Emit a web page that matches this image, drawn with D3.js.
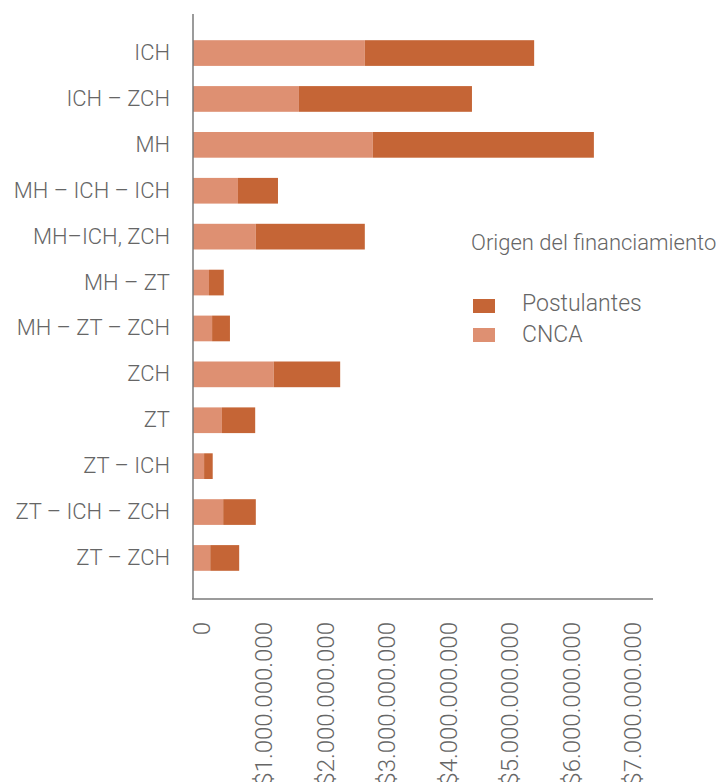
<!DOCTYPE html>
<html>
<head>
<meta charset="utf-8">
<script src="https://cdn.jsdelivr.net/npm/d3@7"></script>
<style>
  html, body { margin: 0; padding: 0; background: #fff; }
  svg { display: block; font-family: Roboto, "Open Sans", sans-serif; font-weight: 300; }
</style>
</head>
<body>
<div id="chart"></div>
<script>
  // Categorías (eje Y) y montos por origen del financiamiento
  const categories = ['ICH', 'ICH – ZCH', 'MH', 'MH – ICH – ICH', 'MH–ICH, ZCH', 'MH – ZT',
    'MH – ZT – ZCH', 'ZCH', 'ZT', 'ZT – ICH', 'ZT – ICH – ZCH', 'ZT – ZCH'];
  const cnca = [2.79e9, 1.72e9, 2.92e9, 0.73e9, 1.02e9, 0.26e9, 0.31e9, 1.31e9, 0.47e9, 0.18e9, 0.49e9, 0.28e9];
  const postulantes = [2.75e9, 2.81e9, 3.59e9, 0.65e9, 1.77e9, 0.24e9, 0.29e9, 1.08e9, 0.54e9, 0.14e9, 0.53e9, 0.47e9];
  const tickValues = [0, 1e9, 2e9, 3e9, 4e9, 5e9, 6e9, 7e9];
  const seriesNames = ['Postulantes', 'CNCA'];
  const legendTitle = 'Origen del financiamiento';

  const W = 723, H = 782;
  const COLORS = { CNCA: '#de9072', Postulantes: '#c56536', axis: '#7a7a7a', text: '#666' };

  const svg = d3.select('#chart').append('svg').attr('width', W).attr('height', H);

  const x = d3.scaleLinear().domain([0, 7.47e9]).range([193, 653]);
  const y = d3.scaleBand().domain(categories).range([20, 591]).padding(0.44);

  const rows = categories.map((c, i) => ({ cat: c, CNCA: cnca[i], Postulantes: postulantes[i] }));
  const stacked = d3.stack().keys(['CNCA', 'Postulantes'])(rows);

  svg.append('g')
    .selectAll('g')
    .data(stacked)
    .join('g')
    .attr('fill', d => COLORS[d.key])
    .selectAll('rect')
    .data(d => d)
    .join('rect')
    .attr('x', d => x(d[0]))
    .attr('width', d => x(d[1]) - x(d[0]))
    .attr('y', d => y(d.data.cat))
    .attr('height', y.bandwidth());

  // Ejes
  svg.append('line')
    .attr('x1', 193).attr('x2', 193).attr('y1', 14).attr('y2', 599)
    .attr('stroke', COLORS.axis).attr('stroke-width', 1.5);
  svg.append('line')
    .attr('x1', 192).attr('x2', 653).attr('y1', 599).attr('y2', 599)
    .attr('stroke', COLORS.axis).attr('stroke-width', 1.5);

  // Etiquetas eje Y
  const yAxis = svg.append('g')
    .attr('transform', 'translate(193,0)')
    .call(d3.axisLeft(y).tickSize(0).tickPadding(23));
  yAxis.select('.domain').remove();
  yAxis.selectAll('text')
    .attr('fill', COLORS.text)
    .style('font-size', '22px')
    .style('font-family', 'Roboto, sans-serif')
    .style('font-weight', 300);

  // Etiquetas eje X (rotadas)
  const fmt = v => v === 0 ? '0' : '$' + d3.format(',')(v).replace(/,/g, '.');
  const xAxis = svg.append('g')
    .attr('transform', 'translate(0,599)')
    .call(d3.axisBottom(x).tickValues(tickValues).tickSize(0).tickFormat(fmt));
  xAxis.select('.domain').remove();
  xAxis.selectAll('text')
    .attr('fill', COLORS.text)
    .style('font-size', '24px')
    .style('font-family', 'Roboto, sans-serif')
    .style('font-weight', 300)
    .attr('text-anchor', 'end')
    .attr('transform', 'rotate(-90)')
    .attr('x', -23)
    .attr('y', 0)
    .attr('dy', '0.35em')
    .attr('dx', 0);
  xAxis.selectAll('.tick').attr('transform', d => `translate(${x(d) + 9},0)`);

  // Leyenda
  const legend = svg.append('g');
  legend.append('text')
    .attr('x', 471).attr('y', 250)
    .attr('fill', COLORS.text)
    .style('font-size', '22px')
    .text(legendTitle);
  seriesNames.forEach((name, i) => {
    legend.append('rect')
      .attr('x', 473).attr('y', 299 + i * 29)
      .attr('width', 22).attr('height', 14)
      .attr('fill', COLORS[name]);
    legend.append('text')
      .attr('x', 522).attr('y', 311 + i * 31)
      .attr('fill', COLORS.text)
      .style('font-size', '23px')
      .text(name);
  });
</script>
</body>
</html>
